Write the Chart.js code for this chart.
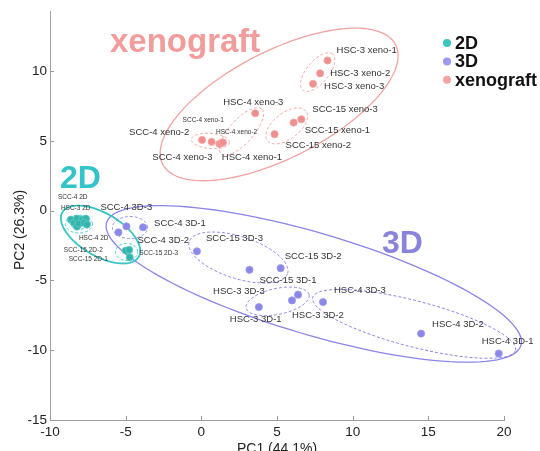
<!DOCTYPE html>
<html>
<head>
<meta charset="utf-8">
<script src="https://cdn.jsdelivr.net/npm/chart.js@4.4.1/dist/chart.umd.min.js"></script>
<style>
  body { margin: 0; background: #fff; }
  canvas { display: block; }
</style>
</head>
<body>
<canvas id="pca-chart" width="540" height="451"></canvas>
<script>
// PCA scores
const names2d = ['HSC-3 2D', '', '', 'SCC-4 2D', '', '', '', '', 'HSC-4 2D', 'SCC-15 2D-1', 'SCC-15 2D-2', 'SCC-15 2D-3'];
const pc1_2d = [-8.62, -8.42, -8.22, -8.22, -7.89, -7.63, -8.09, -7.76, -7.56, -4.73, -4.99, -4.77];
const pc2_2d = [-0.64, -0.86, -1.14, -0.57, -0.64, -0.57, -0.93, -0.86, -1.00, -3.34, -2.86, -2.81];

const names3d = ['SCC-4 3D-1', 'SCC-4 3D-2', 'SCC-4 3D-3', 'SCC-15 3D-1', 'SCC-15 3D-2', 'SCC-15 3D-3',
                 'HSC-3 3D-1', 'HSC-3 3D-2', 'HSC-3 3D-3', 'HSC-4 3D-1', 'HSC-4 3D-2', 'HSC-4 3D-3'];
const pc1_3d = [-3.85, -5.48, -4.95, 3.18, 5.24, -0.29, 3.80, 5.99, 6.39, 19.65, 14.52, 8.04];
const pc2_3d = [-1.19, -1.55, -1.12, -4.24, -4.12, -2.91, -6.91, -6.43, -6.02, -10.24, -8.81, -6.55];

const namesXeno = ['SCC-4 xeno-1', 'SCC-4 xeno-2', 'SCC-4 xeno-3', 'HSC-4 xeno-1', 'HSC-4 xeno-2', 'HSC-4 xeno-3',
                   'SCC-15 xeno-1', 'SCC-15 xeno-2', 'SCC-15 xeno-3', 'HSC-3 xeno-1', 'HSC-3 xeno-2', 'HSC-3 xeno-3'];
const pc1_xeno = [0.68, 0.05, 1.19, 1.29, 1.43, 3.56, 6.10, 4.84, 6.61, 8.34, 7.85, 7.38];
const pc2_xeno = [4.93, 5.07, 4.79, 4.82, 4.89, 6.98, 6.31, 5.48, 6.55, 10.76, 9.84, 9.09];

const xTicks = [-10, -5, 0, 5, 10, 15, 20];
const yTicks = [-15, -10, -5, 0, 5, 10];

// confidence ellipses in data units: centre + two conjugate semi-axes
const ellipses = [
    { group: 'xeno', dashed: false, cx: 5.14, cy: 7.61, ux: 7.69, uy: 4.29, vx: -1.63, vy: 3.39 },
    { group: '3d', dashed: false, cx: 7.43, cy: -5.25, ux: 13.69, uy: -4.40, vx: 0.96, vy: 3.48 },
    { group: '2d', dashed: false, cx: -6.66, cy: -1.71, ux: 2.52, uy: -1.60, vx: 0.72, vy: 1.32 },
    { group: '2d', dashed: true, cx: -8.09, cy: -0.96, ux: 0.90, uy: 0, vx: 0, vy: 0.64 },
    { group: '2d', dashed: true, cx: -8.02, cy: -0.86, ux: 0.66, uy: 0, vx: 0, vy: 0.46 },
    { group: '2d', dashed: true, cx: -4.94, cy: -2.96, ux: 0.73, uy: 0, vx: 0, vy: 0.61 },
    { group: '3d', dashed: true, cx: -4.71, cy: -1.21, ux: 1.16, uy: 0, vx: 0, vy: 0.79 },
    { group: '3d', dashed: true, cx: 2.45, cy: -3.36, ux: 3.25, uy: -1.14, vx: 0.43, vy: 1.43 },
    { group: '3d', dashed: true, cx: 5.04, cy: -6.50, ux: 2.08, uy: 0.475, vx: -0.18, vy: 0.91 },
    { group: '3d', dashed: true, cx: 14.06, cy: -8.11, ux: 6.70, uy: -1.89, vx: 0.39, vy: 1.59 },
    { group: 'xeno', dashed: true, cx: 7.69, cy: 9.93, ux: 0.99, uy: 1.29, vx: -0.56, vy: 0.51 },
    { group: 'xeno', dashed: true, cx: 5.64, cy: 6.07, ux: 1.27, uy: 1.06, vx: -0.53, vy: 0.73 },
    { group: 'xeno', dashed: true, cx: 2.65, cy: 5.68, ux: 1.33, uy: 1.61, vx: -0.59, vy: 0.57 },
    { group: 'xeno', dashed: true, cx: 0.60, cy: 5.00, ux: 1.26, uy: -0.11, vx: 0.04, vy: 0.54 }
];

// label placement, pixel offset from the point (left edge, middle)
const labelOffsets = {
    'HSC-3 2D': [-10, -11], 'SCC-4 2D': [-19, -21], 'HSC-4 2D': [-8, 14],
    'SCC-15 2D-1': [-61, 2], 'SCC-15 2D-2': [-62, 0], 'SCC-15 2D-3': [10, 3],
    'SCC-4 3D-1': [11, -4], 'SCC-4 3D-2': [19, 8], 'SCC-4 3D-3': [-26, -19],
    'SCC-15 3D-1': [10, 11], 'SCC-15 3D-2': [4, -12], 'SCC-15 3D-3': [9, -13],
    'HSC-3 3D-1': [-29, 12], 'HSC-3 3D-2': [0, 15], 'HSC-3 3D-3': [-85, -3],
    'HSC-4 3D-1': [-17, -12], 'HSC-4 3D-2': [11, -9], 'HSC-4 3D-3': [11, -12],
    'SCC-4 xeno-1': [-29, -22], 'SCC-4 xeno-2': [-73, -8], 'SCC-4 xeno-3': [-67, 14],
    'HSC-4 xeno-1': [1, 14], 'HSC-4 xeno-2': [-7, -10], 'HSC-4 xeno-3': [-32, -11],
    'SCC-15 xeno-1': [11, 8], 'SCC-15 xeno-2': [11, 11], 'SCC-15 xeno-3': [11, -10],
    'HSC-3 xeno-1': [9, -10], 'HSC-3 xeno-2': [10, 0], 'HSC-3 xeno-3': [11, 3]
};
const smallLabels = ['HSC-3 2D', 'SCC-4 2D', 'HSC-4 2D', 'SCC-15 2D-1', 'SCC-15 2D-2', 'SCC-15 2D-3',
                     'SCC-4 xeno-1', 'HSC-4 xeno-2'];

const colors = { '2d': '#33b5ad', '3d': '#8a87e6', 'xeno': '#f08e8e' };
const lineColors = { '2d': '#35c6c6', '3d': '#8c84e8', 'xeno': '#f3a2a2' };
const FONT = '"Liberation Sans", Arial, sans-serif';

function toPoints(xs, ys) {
    return xs.map((x, i) => ({ x: x, y: ys[i] }));
}

const overlay = {
    id: 'overlay',
    beforeDatasetsDraw(chart) {
        const c = chart.ctx, xs = chart.scales.x, ys = chart.scales.y;
        c.save();
        ellipses.forEach(e => {
            c.beginPath();
            for (let i = 0; i <= 120; i++) {
                const t = i / 120 * Math.PI * 2;
                const px = xs.getPixelForValue(e.cx + e.ux * Math.cos(t) + e.vx * Math.sin(t));
                const py = ys.getPixelForValue(e.cy + e.uy * Math.cos(t) + e.vy * Math.sin(t));
                if (i === 0) c.moveTo(px, py); else c.lineTo(px, py);
            }
            c.closePath();
            c.strokeStyle = lineColors[e.group];
            c.lineWidth = e.dashed ? 1 : (e.group === '2d' ? 1.8 : 1.3);
            c.setLineDash(e.dashed ? [3, 2] : []);
            c.stroke();
        });
        c.restore();
    },
    afterDatasetsDraw(chart) {
        const c = chart.ctx, xs = chart.scales.x, ys = chart.scales.y, area = chart.chartArea;
        c.save();
        // inward tick marks
        c.strokeStyle = '#999';
        c.lineWidth = 1;
        xTicks.forEach(v => {
            const px = Math.round(xs.getPixelForValue(v)) + 0.5;
            c.beginPath(); c.moveTo(px, area.bottom); c.lineTo(px, area.bottom - 4); c.stroke();
        });
        yTicks.forEach(v => {
            const py = Math.round(ys.getPixelForValue(v)) + 0.5;
            c.beginPath(); c.moveTo(area.left, py); c.lineTo(area.left + 4, py); c.stroke();
        });

        // sample labels
        c.textAlign = 'left';
        c.textBaseline = 'middle';
        c.fillStyle = '#333';
        chart.data.datasets.forEach((ds, di) => {
            const meta = chart.getDatasetMeta(di);
            ds.names.forEach((name, i) => {
                if (!name) return;
                const pt = meta.data[i];
                const off = labelOffsets[name];
                c.font = (smallLabels.includes(name) ? '6.5px ' : '9.5px ') + FONT;
                c.fillText(name, pt.x + off[0], pt.y + off[1]);
            });
        });

        // group titles
        c.textBaseline = 'alphabetic';
        c.font = 'bold 33px ' + FONT;
        c.fillStyle = '#f29c9c';
        c.fillText('xenograft', 110, 52);
        c.font = 'bold 32px ' + FONT;
        c.fillStyle = '#33c3cb';
        c.fillText('2D', 60, 188);
        c.fillStyle = '#8a83dc';
        c.fillText('3D', 382, 253);

        // legend
        c.font = 'bold 18px ' + FONT;
        c.textBaseline = 'middle';
        chart.data.datasets.forEach((ds, i) => {
            const y = 43 + i * 18.4;
            c.beginPath();
            c.arc(447, y, 4, 0, Math.PI * 2);
            c.fillStyle = ds.legendColor;
            c.fill();
            c.fillStyle = '#111';
            c.fillText(ds.label, 455, y + 1);
        });

        // axis titles
        c.font = '14px ' + FONT;
        c.fillStyle = '#222';
        c.textAlign = 'center';
        c.textBaseline = 'alphabetic';
        c.fillText('PC1 (44.1%)', (area.left + area.right) / 2, 453);
        c.translate(24, 230);
        c.rotate(-Math.PI / 2);
        c.fillText('PC2 (26.3%)', 0, 0);
        c.restore();
    }
};

const ctx = document.getElementById('pca-chart').getContext('2d');

const pcaChart = new Chart(ctx, {
    type: 'scatter',
    data: {
        datasets: [{
            label: '2D',
            names: names2d,
            data: toPoints(pc1_2d, pc2_2d),
            backgroundColor: colors['2d'],
            borderColor: '#5fcac4',
            legendColor: '#3ec4bf'
        }, {
            label: '3D',
            names: names3d,
            data: toPoints(pc1_3d, pc2_3d),
            backgroundColor: colors['3d'],
            borderColor: '#9d9aec',
            legendColor: '#9c99ee'
        }, {
            label: 'xenograft',
            names: namesXeno,
            data: toPoints(pc1_xeno, pc2_xeno),
            backgroundColor: colors['xeno'],
            borderColor: '#f4a4a4',
            legendColor: '#f4a2a2'
        }]
    },
    options: {
        responsive: false,
        animation: false,
        elements: { point: { radius: 3.6, borderWidth: 0.8 } },
        layout: { padding: { left: 0, right: 36, top: 10, bottom: 0 } },
        plugins: {
            legend: { display: false },
            tooltip: { enabled: false }
        },
        scales: {
            x: {
                type: 'linear',
                min: -10,
                max: 20,
                afterBuildTicks: s => { s.ticks = xTicks.map(v => ({ value: v })); },
                afterFit: s => { s.height = 31; },
                grid: { display: false, drawTicks: false },
                border: { display: true, color: '#a0a0a0', width: 1 },
                ticks: { padding: 4, color: '#222', font: { size: 13.5, family: FONT }, maxRotation: 0 }
            },
            y: {
                type: 'linear',
                min: -15,
                max: 14.3,
                afterBuildTicks: s => { s.ticks = yTicks.map(v => ({ value: v })); },
                afterFit: s => { s.width = 50; },
                grid: { display: false, drawTicks: false },
                border: { display: true, color: '#a0a0a0', width: 1 },
                ticks: { padding: 3, color: '#222', font: { size: 13.5, family: FONT } }
            }
        }
    },
    plugins: [overlay]
});
</script>
</body>
</html>
